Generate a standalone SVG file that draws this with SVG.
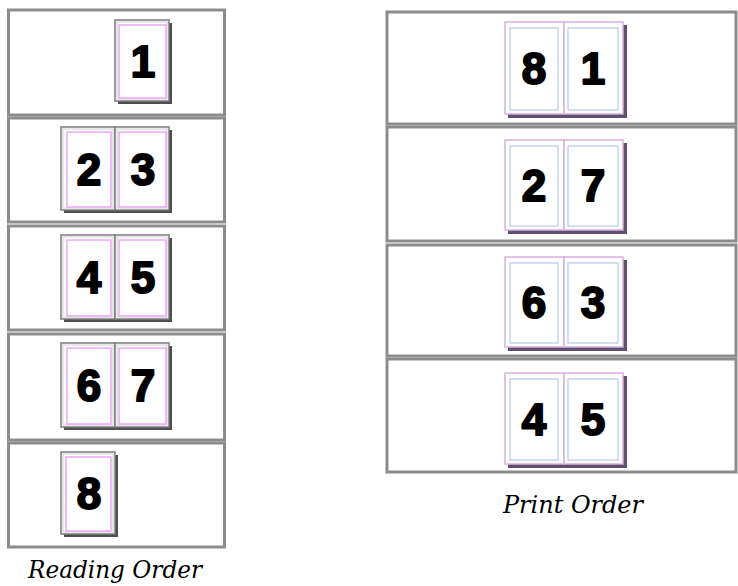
<svg xmlns="http://www.w3.org/2000/svg" width="738" height="586" viewBox="0 0 738 586">
<style>
.panel{fill:#fff;stroke:#8c8c8c;stroke-width:3}
.lsh{fill:#4e4e4e}
.lp{fill:#fff;stroke:#7c7c7c;stroke-width:1.5}
.lpi{fill:none;stroke:#cfcfcf;stroke-width:1}
.lin{fill:none;stroke:#eaa8f6;stroke-width:1.5}
.rsh{fill:#5f5072}
.rp{fill:#fff;stroke:#d8b0e0;stroke-width:1.5}
.rin{fill:none;stroke:#a6c0e6;stroke-width:1}
.num{font-family:"Liberation Sans",Arial,sans-serif;font-weight:bold;font-size:44px;text-anchor:middle;fill:#000;stroke:#000;stroke-width:2;stroke-linejoin:round}
.cap{font-family:"DejaVu Serif","Liberation Serif",serif;font-style:italic;font-size:24px;text-anchor:middle;fill:#000}
</style>
<rect width="738" height="586" fill="#fff"/>

<g id="reading-order">
  <g id="r-row1">
    <rect class="panel" x="8.5" y="10" width="216" height="105"/>
    <rect class="lsh" x="118" y="23" width="54" height="81"/>
    <rect class="lp" x="115" y="20" width="54" height="81"/>
    <rect class="lpi" x="117" y="22" width="50" height="77"/>
    <rect class="lin" x="119" y="25" width="47" height="73"/>
    <text class="num" x="143" y="77">1</text>
  </g>
  <g id="r-row2">
    <rect class="panel" x="8.5" y="118" width="216" height="104"/>
    <rect class="lsh" x="64" y="130" width="108" height="83"/>
    <rect class="lp" x="61" y="127" width="54" height="83"/>
    <rect class="lp" x="115" y="127" width="54" height="83"/>
    <rect class="lpi" x="63" y="129" width="50" height="79"/>
    <rect class="lpi" x="117" y="129" width="50" height="79"/>
    <rect class="lin" x="67" y="132" width="44" height="75"/>
    <rect class="lin" x="119" y="132" width="47" height="75"/>
    <text class="num" x="89" y="185">2</text>
    <text class="num" x="143" y="185">3</text>
  </g>
  <g id="r-row3">
    <rect class="panel" x="8.5" y="226" width="216" height="104"/>
    <rect class="lsh" x="64" y="238" width="108" height="84"/>
    <rect class="lp" x="61" y="235" width="54" height="84"/>
    <rect class="lp" x="115" y="235" width="54" height="84"/>
    <rect class="lpi" x="63" y="237" width="50" height="80"/>
    <rect class="lpi" x="117" y="237" width="50" height="80"/>
    <rect class="lin" x="67" y="240" width="44" height="76"/>
    <rect class="lin" x="119" y="240" width="47" height="76"/>
    <text class="num" x="89" y="293">4</text>
    <text class="num" x="143" y="293">5</text>
  </g>
  <g id="r-row4">
    <rect class="panel" x="8.5" y="334" width="216" height="106"/>
    <rect class="lsh" x="64" y="346" width="108" height="84"/>
    <rect class="lp" x="61" y="343" width="54" height="84"/>
    <rect class="lp" x="115" y="343" width="54" height="84"/>
    <rect class="lpi" x="63" y="345" width="50" height="80"/>
    <rect class="lpi" x="117" y="345" width="50" height="80"/>
    <rect class="lin" x="67" y="348" width="44" height="76"/>
    <rect class="lin" x="119" y="348" width="47" height="76"/>
    <text class="num" x="89" y="401">6</text>
    <text class="num" x="143" y="401">7</text>
  </g>
  <g id="r-row5">
    <rect class="panel" x="8.5" y="443" width="216" height="104"/>
    <rect class="lsh" x="64" y="455" width="54" height="82"/>
    <rect class="lp" x="61" y="452" width="54" height="82"/>
    <rect class="lpi" x="63" y="454" width="50" height="78"/>
    <rect class="lin" x="66" y="457" width="45" height="74"/>
    <text class="num" x="89" y="509">8</text>
  </g>
  <text id="reading-label" class="cap" x="115" y="578" textLength="174" lengthAdjust="spacingAndGlyphs">Reading Order</text>
</g>

<g id="print-order">
  <g id="p-row1">
    <rect class="panel" x="387" y="12" width="349" height="112"/>
    <rect class="rsh" x="508" y="25" width="119" height="93"/>
    <rect class="rp" x="505" y="22" width="59" height="92"/>
    <rect class="rp" x="564" y="22" width="59" height="92"/>
    <rect class="rin" x="510" y="28" width="48" height="82"/>
    <rect class="rin" x="568" y="28" width="50" height="82"/>
    <text class="num" x="534" y="84">8</text>
    <text class="num" x="593" y="84">1</text>
  </g>
  <g id="p-row2">
    <rect class="panel" x="387" y="127" width="349" height="114"/>
    <rect class="rsh" x="508" y="143" width="119" height="91"/>
    <rect class="rp" x="505" y="140" width="59" height="90"/>
    <rect class="rp" x="564" y="140" width="59" height="90"/>
    <rect class="rin" x="510" y="146" width="48" height="80"/>
    <rect class="rin" x="568" y="146" width="50" height="80"/>
    <text class="num" x="534" y="201">2</text>
    <text class="num" x="593" y="201">7</text>
  </g>
  <g id="p-row3">
    <rect class="panel" x="387" y="245" width="349" height="111"/>
    <rect class="rsh" x="508" y="260" width="119" height="91"/>
    <rect class="rp" x="505" y="257" width="59" height="90"/>
    <rect class="rp" x="564" y="257" width="59" height="90"/>
    <rect class="rin" x="510" y="263" width="48" height="80"/>
    <rect class="rin" x="568" y="263" width="50" height="80"/>
    <text class="num" x="534" y="318">6</text>
    <text class="num" x="593" y="318">3</text>
  </g>
  <g id="p-row4">
    <rect class="panel" x="387" y="359" width="349" height="113"/>
    <rect class="rsh" x="508" y="376" width="119" height="92"/>
    <rect class="rp" x="505" y="373" width="59" height="91"/>
    <rect class="rp" x="564" y="373" width="59" height="91"/>
    <rect class="rin" x="510" y="379" width="48" height="81"/>
    <rect class="rin" x="568" y="379" width="50" height="81"/>
    <text class="num" x="534" y="435">4</text>
    <text class="num" x="593" y="435">5</text>
  </g>
  <text id="print-label" class="cap" x="573" y="513" textLength="140" lengthAdjust="spacingAndGlyphs">Print Order</text>
</g>
</svg>
